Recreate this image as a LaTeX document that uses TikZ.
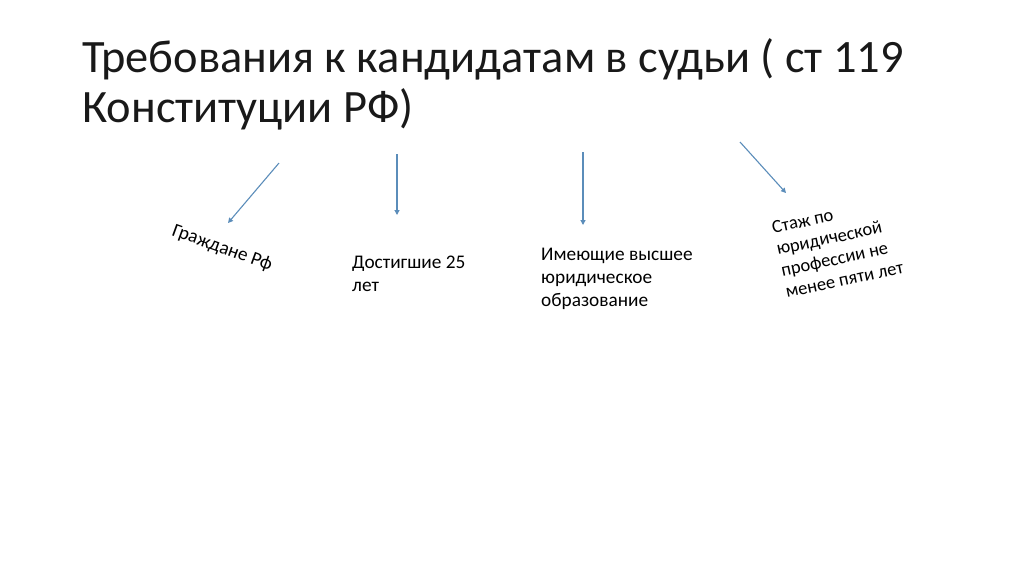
\documentclass[tikz,border=0pt]{standalone}
\usepackage{fontspec}
\setmainfont{Carlito}
\usepackage{xcolor}
\usepackage{tikz}
\usetikzlibrary{arrows.meta}
\definecolor{arrowblue}{RGB}{91,141,186}
\definecolor{titleink}{RGB}{25,25,25}

\begin{document}
\begin{tikzpicture}[x=1pt,y=-1pt,
  lbl/.style={inner sep=0pt,anchor=base west,align=left,font=\fontsize{19.3}{23}\selectfont},
  tilted/.style={lbl,font=\fontsize{18.5}{22}\selectfont},
  arr/.style={draw=arrowblue,line width=1.1pt,-{Triangle[width=5pt,length=5pt]}}]
\useasboundingbox[fill=white] (0,0) rectangle (1024,574);
% title (base = last line)
\node[inner sep=0pt,anchor=base west,align=left,text=titleink,font=\fontsize{46.4}{50}\selectfont] (title) at (82,122) {Требования к кандидатам в судьи ( ст 119\\Конституции РФ)};
% requirements
\node[lbl,font=\fontsize{19.2}{23}\selectfont,rotate=-20] (citizen) at (171,235) {Граждане Рф};
\node[lbl] (age) at (352,291) {Достигшие 25\\лет};
\node[lbl] (edu) at (541,306) {Имеющие высшее\\юридическое\\образование};
\node[tilted,rotate=12] (exper) at (787,298) {Стаж по\\юридической\\профессии не\\менее пяти лет};
% arrows
\coordinate (c1) at (279,163); \coordinate (c1e) at (228,223);
\coordinate (c2) at (397,154); \coordinate (c2e) at (397,215);
\coordinate (c3) at (583,152); \coordinate (c3e) at (583,225);
\coordinate (c4) at (740,142); \coordinate (c4e) at (786,193);
\draw[arr] (c1)--(c1e);
\draw[arr] (c2)--(c2e);
\draw[arr] (c3)--(c3e);
\draw[arr] (c4)--(c4e);
\end{tikzpicture}
\end{document}
